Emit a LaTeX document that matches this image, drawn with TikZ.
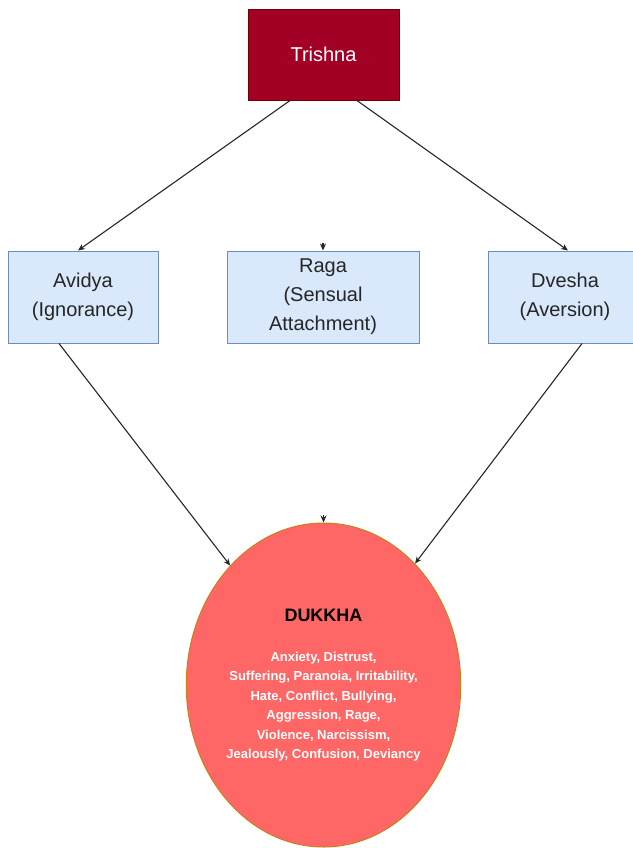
\documentclass[tikz,border=0pt]{standalone}
\usepackage{fontspec}
\setmainfont{Liberation Sans}
\usetikzlibrary{shapes.geometric,arrows.meta,positioning,calc}
\definecolor{TrishnaRed}{HTML}{A20025}
\definecolor{TrishnaLine}{HTML}{6F0000}
\definecolor{KleshaFill}{HTML}{DAE8FC}
\definecolor{KleshaLine}{HTML}{6C8EBF}
\definecolor{DukkhaFill}{HTML}{FF6666}
\definecolor{DukkhaLine}{HTML}{C8801A}

\begin{document}
\begin{tikzpicture}[
  x=1pt, y=-1pt,
  root/.style={rectangle, minimum width=151pt, minimum height=91pt, fill=TrishnaRed, draw=TrishnaLine,
               text=white, font=\fontsize{20}{24}\selectfont},
  klesha/.style={rectangle, minimum height=92pt, fill=KleshaFill, draw=KleshaLine, line width=1pt,
                 align=center, text=black!85, font=\fontsize{20}{29}\selectfont},
  dukkha/.style={ellipse, inner sep=0pt, minimum width=265pt, minimum height=324pt, fill=DukkhaFill,
                 draw=DukkhaLine, line width=1pt, align=center, text=white,
                 font=\bfseries\fontsize{13}{19.4}\selectfont},
  arrow/.style={-{Stealth[length=7pt, width=6pt]}, line width=1.1pt, black!85}
]
\useasboundingbox (0,0) rectangle (632,848);
\node[root] (T) at (323.5,54.5) {Trishna};
\node[klesha, minimum width=150pt] (A) at (83,297) {Avidya\\(Ignorance)};
\node[klesha, minimum width=192pt] (R) at (323,297) {Raga\\(Sensual\\Attachment)};
\node[klesha, minimum width=154pt] (D) at (565,297) {Dvesha\\(Aversion)};
\node[dukkha] (K) at (323.5,685) {{\color{black}\fontsize{18}{19.4}\selectfont DUKKHA}\\[21pt]
  Anxiety, Distrust,\\Suffering, Paranoia, Irritability,\\Hate, Conflict, Bullying,\\
  Aggression, Rage,\\Violence, Narcissism,\\Jealously, Confusion, Deviancy};
\coordinate[above=8pt of R.north] (Rtop);
\coordinate[above=8pt of K.north] (Ktop);
\draw[arrow] ([xshift=-33pt]T.south) -- ([xshift=-5pt]A.north);
\draw[arrow] ([xshift=33pt]T.south) -- ([xshift=3pt]D.north);
\draw[arrow] (Rtop) -- (R.north);
\draw[arrow] ([xshift=-24pt]A.south) -- (K.128);
\draw[arrow] ([xshift=17pt]D.south) -- (K.53);
\draw[arrow] (Ktop) -- (K.north);
\end{tikzpicture}
\end{document}
